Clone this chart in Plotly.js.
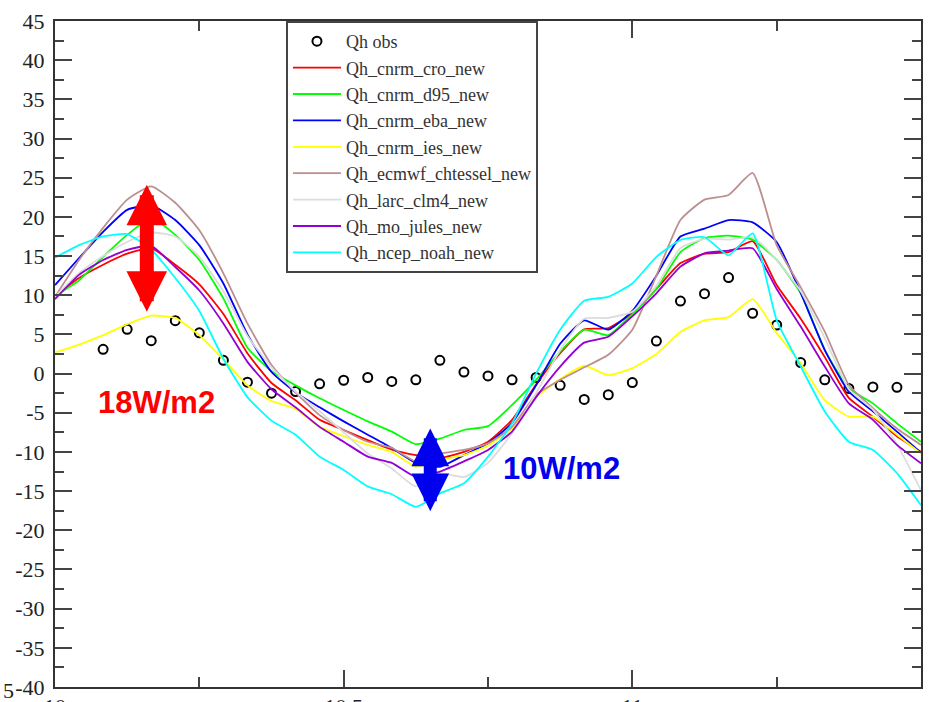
<!DOCTYPE html>
<html>
<head>
<meta charset="utf-8">
<script src="https://cdn.plot.ly/plotly-3.0.1.min.js"></script>
<style>
  html, body { margin: 0; padding: 0; background: #ffffff; }
  #chart { width: 929px; height: 702px; }
</style>
</head>
<body>
<div id="chart"></div>
<script>
// ---- data (hours after the start of day 10) ----
const hours = [0,1,2,3,4,5,6,7,8,9,10,11,12,13,14,15,16,17,18,19,20,21,22,23,24,25,26,27,28,29,30,31,32,33,34,35,36];

const obsHours = [2,3,4,5,6,7,8,9,10,11,12,13,14,15,16,17,18,19,20,21,22,23,24,25,26,27,28,29,30,31,32,33,34,35];
const obsQh = [3.1,5.65,4.2,6.75,5.2,1.7,-1.1,-2.5,-2.3,-1.3,-0.85,-0.5,-1.0,-0.8,1.7,0.2,-0.3,-0.8,-0.5,-1.5,-3.3,-2.7,-1.15,4.15,9.25,10.2,12.25,7.7,6.2,1.4,-0.8,-1.9,-1.7,-1.75];

const cnrmCro = [9.9,12.2,13.9,15.3,16.0,13.9,11.4,7.6,2.6,-1.2,-3.4,-5.9,-7.2,-8.5,-9.7,-10.4,-10.8,-10.0,-8.7,-5.9,-1.4,2.6,5.65,5.8,7.7,10.8,14.1,15.3,15.5,16.9,11.3,7.0,2.1,-3.1,-5.5,-8.0,-10.0];
const cnrmD95 = [9.9,11.9,14.9,17.7,19.8,17.7,14.5,9.6,3.3,0.3,-1.5,-3.15,-4.65,-6.1,-7.4,-9.0,-8.3,-7.2,-6.7,-4.0,-0.8,2.8,5.6,4.9,7.6,10.8,15.5,17.3,17.6,17.1,14.5,10.25,3.0,-1.9,-3.8,-6.35,-8.7];
const cnrmEba = [11.3,14.75,18.1,20.9,21.5,19.6,16.4,11.5,5.0,0.2,-2.4,-4.3,-6.1,-7.8,-9.5,-11.4,-11.9,-10.4,-8.9,-6.3,-1.5,3.8,6.8,5.6,8.0,12.5,17.5,18.5,19.6,19.3,16.8,10.3,3.0,-2.3,-4.8,-7.4,-10.1];
const cnrmIes = [2.7,3.7,4.9,6.3,7.4,7.1,4.9,1.8,-1.5,-3.5,-4.5,-6.8,-8.0,-9.1,-10.0,-11.9,-11.0,-10.4,-9.2,-7.0,-3.0,-0.7,1.0,-0.2,0.7,2.5,5.3,6.8,7.2,9.5,5.2,1.3,-3.4,-5.5,-5.5,-7.8,-10.2];
const ecmwfChtessel = [9.8,14.5,18.6,22.2,23.9,21.8,18.3,12.8,6.4,1.1,-2.4,-5.3,-7.2,-8.7,-9.5,-11.2,-10.2,-9.75,-8.9,-6.8,-2.7,-0.8,0.8,2.4,5.6,12.5,19.6,22.2,22.8,25.6,16.4,11.0,5.35,-1.45,-4.4,-7.0,-9.1];
const larcClm4 = [9.8,12.8,15.0,16.8,18.0,17.5,14.9,10.5,4.8,0.8,-2.3,-4.8,-7.5,-10.2,-12.1,-14.4,-12.7,-13.2,-11.4,-7.6,-2.5,3.0,7.0,7.1,7.9,11.2,16.0,17.2,17.1,17.4,14.5,10.5,4.5,-2.0,-4.6,-9.0,-14.9];
const moJules = [9.5,12.6,14.5,15.8,16.3,13.6,10.6,6.4,1.5,-2.0,-4.3,-6.8,-8.7,-10.6,-11.4,-13.2,-12.5,-11.2,-9.75,-7.4,-3.0,0.9,3.95,4.7,7.3,10.25,13.65,15.35,15.7,16.0,10.8,6.0,0.9,-3.8,-5.9,-9.1,-11.45];
const ncepNoah = [14.8,16.4,17.5,17.8,15.8,12.2,8.0,1.9,-3.0,-6.0,-7.8,-10.6,-12.3,-14.4,-15.4,-17.0,-15.3,-14.0,-10.6,-6.35,0.0,5.6,9.3,9.8,11.5,14.9,17.05,17.4,15.1,17.9,6.8,0.9,-4.85,-8.7,-9.75,-12.7,-16.8];

const seriesNames = ["Qh_cnrm_cro_new","Qh_cnrm_d95_new","Qh_cnrm_eba_new","Qh_cnrm_ies_new","Qh_ecmwf_chtessel_new","Qh_larc_clm4_new","Qh_mo_jules_new","Qh_ncep_noah_new"];
const seriesColors = ["#ff0000","#00ff00","#0000ff","#ffff00","#bc8f8f","#dcdcdc","#9400d3","#00ffff"];
const seriesValues = [cnrmCro, cnrmD95, cnrmEba, cnrmIes, ecmwfChtessel, larcClm4, moJules, ncepNoah];

const xTickVals = [10, 10.5, 11, 11.5];
const xTickText = ["10", "10.5", "11", "11.5"];
const yTickVals = [-40,-35,-30,-25,-20,-15,-10,-5,0,5,10,15,20,25,30,35,40,45];
const yTickText = ["-40","-35","-30","-25","-20","-15","-10","-5","0","5","10","15","20","25","30","35","40","45"];

// ---- build ----
const toDay = h => 10 + h / 24;
const day = hours.map(toDay);

const traces = [{
  x: obsHours.map(toDay), y: obsQh, name: "Qh obs", type: "scatter", mode: "markers",
  marker: { symbol: "circle-open", size: 9, color: "#000000", line: { width: 2, color: "#000000" } }
}];
seriesValues.forEach((vals, i) => {
  traces.push({
    x: day, y: vals, name: seriesNames[i], type: "scatter", mode: "lines",
    line: { color: seriesColors[i], width: 1.8, shape: "spline", smoothing: 0.5 }
  });
});

const serif = "Liberation Serif";
const tickFont = { family: serif, size: 22, color: "#222222" };

const layout = {
  width: 929, height: 702,
  margin: { l: 55, r: 8, t: 21, b: 15, pad: 0 },
  paper_bgcolor: "#ffffff", plot_bgcolor: "#ffffff",
  showlegend: true,
  legend: {
    x: 0.2667, y: 1, xanchor: "left", yanchor: "top",
    bgcolor: "#ffffff", bordercolor: "#444444", borderwidth: 2,
    font: { family: serif, size: 18, color: "#333333" },
    itemwidth: 48, tracegroupgap: 0
  },
  xaxis: {
    range: [10, 11.5], tickmode: "array", tickvals: xTickVals, ticktext: xTickText,
    ticks: "inside", ticklen: 17, tickwidth: 2, tickcolor: "#444444",
    showline: true, linecolor: "#333333", linewidth: 2, mirror: "ticks",
    showgrid: false, zeroline: false, tickfont: tickFont, ticklabelstandoff: -1,
    minor: { tickmode: "linear", tick0: 10, dtick: 0.25, ticks: "inside", ticklen: 10, tickwidth: 2, tickcolor: "#444444", showgrid: false }
  },
  yaxis: {
    range: [-40, 45], tickmode: "array", tickvals: yTickVals, ticktext: yTickText,
    ticks: "inside", ticklen: 17, tickwidth: 2, tickcolor: "#444444",
    showline: true, linecolor: "#333333", linewidth: 2, mirror: "ticks",
    showgrid: false, zeroline: false, tickfont: tickFont, ticklabelstandoff: 4,
    minor: { tickmode: "linear", tick0: -40, dtick: 2.5, ticks: "inside", ticklen: 9, tickwidth: 2, tickcolor: "#444444", showgrid: false }
  },
  annotations: [
    { x: 10.159, y: 24.1, ax: 10.159, ay: 7.7, xref: "x", yref: "y", axref: "x", ayref: "y",
      text: "", showarrow: true, arrowhead: 2, startarrowhead: 2, arrowside: "end+start",
      arrowsize: 0.58, startarrowsize: 0.58, arrowwidth: 14, arrowcolor: "#ff0000" },
    { x: 10.65, y: -7.0, ax: 10.65, ay: -17.75, xref: "x", yref: "y", axref: "x", ayref: "y",
      text: "", showarrow: true, arrowhead: 2, startarrowhead: 2, arrowside: "end+start",
      arrowsize: 0.58, startarrowsize: 0.58, arrowwidth: 13, arrowcolor: "#0000ee" },
    { x: 10.175, y: -3.7, xref: "x", yref: "y", text: "<b>18W/m2</b>", showarrow: false,
      font: { family: "Liberation Sans", size: 31, color: "#ff0000" } },
    { x: 10.878, y: -12.05, xref: "x", yref: "y", text: "<b>10W/m2</b>", showarrow: false,
      font: { family: "Liberation Sans", size: 31, color: "#0000ee" } },
    { x: -0.062, y: -0.005, xref: "paper", yref: "paper", xanchor: "left", yanchor: "middle",
      text: "5", showarrow: false, font: { family: serif, size: 22, color: "#222222" } }
  ]
};

Plotly.newPlot("chart", traces, layout, { displayModeBar: false, staticPlot: true });
</script>
</body>
</html>
